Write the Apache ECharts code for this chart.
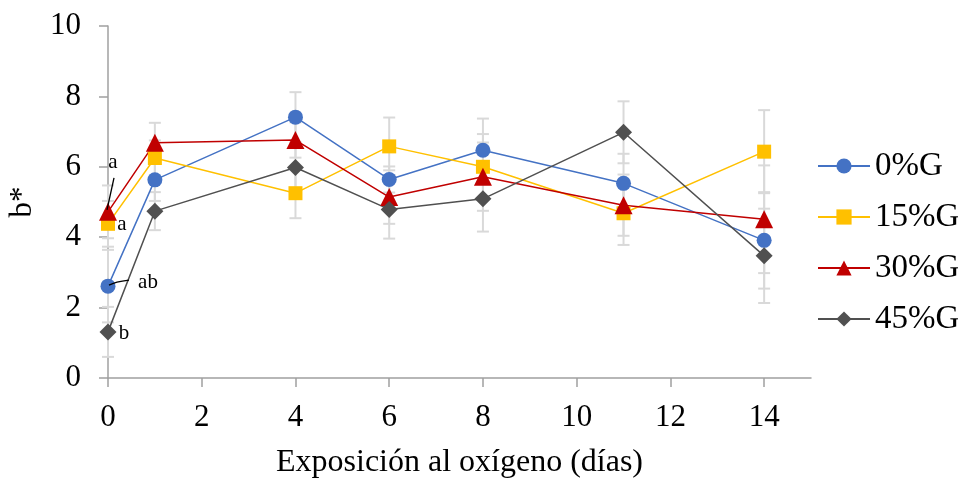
<!DOCTYPE html>
<html>
<head>
<meta charset="utf-8">
<script src="https://cdn.jsdelivr.net/npm/echarts@6/dist/echarts.min.js"></script>
<style>
  html, body { margin: 0; padding: 0; background: #fff; }
  #chart { width: 958px; height: 479px; }
</style>
</head>
<body>
<div id="chart"></div>
<script>
// dias de exposicion y valores de b*
var dias = [0, 1, 4, 6, 8, 11, 14];
var xTicks = [0, 2, 4, 6, 8, 10, 12, 14];

var g0 = [2.61, 5.63, 7.41, 5.64, 6.47, 5.53, 3.91];
var g15 = [4.38, 6.25, 5.25, 6.58, 6.00, 4.68, 6.43];
var g30 = [4.72, 6.68, 6.76, 5.14, 5.72, 4.91, 4.51];
var g45 = [1.31, 4.74, 5.98, 4.79, 5.09, 6.98, 3.47];

// desviaciones (barras de error)
var e0 = [1.03, 0.60, 0.71, 0.37, 0.90, 0.84, 1.37];
var e15 = [0.65, 0.50, 0.71, 0.82, 0.93, 0.90, 1.18];
var e30 = [0.75, 0.57, 0.50, 0.76, 0.97, 0.87, 1.53];
var e45 = [0.71, 0.54, 0.60, 0.83, 0.93, 0.88, 1.34];

var nombres = ['0%G', '15%G', '30%G', '45%G'];
var letras = ['ab', 'a', 'a', 'b'];

var font = 'Liberation Serif, Times New Roman, serif';
var colores = ['#4472C4', '#FFC000', '#C00000', '#505050'];
var simbolos = ['circle', 'rect', 'triangle', 'diamond'];
var tamanos = [15, 14, 18, 17];
var valores = [g0, g15, g30, g45];
var errores = [e0, e15, e30, e45];

// donde va cada letra respecto al punto del dia 0 (px) y su linea guia
var notas = [
  { offset: [40, -4], guia: [[1, -1], [9, -4], [21, -6]] },
  { offset: [14, 1], guia: null },
  { offset: [5, -49], guia: [[6, -34], [-1, -2]] },
  { offset: [16, 2], guia: null }
];

var chart = echarts.init(document.getElementById('chart'));

var series = [];

valores.forEach(function (vals, s) {
  series.push({
    name: nombres[s] + '_err',
    type: 'custom',
    z: 1,
    silent: true,
    data: dias.map(function (d, i) { return [d, vals[i] - errores[s][i], vals[i] + errores[s][i]]; }),
    encode: { x: 0, y: [1, 2] },
    renderItem: function (params, api) {
      var lo = api.coord([api.value(0), api.value(1)]);
      var hi = api.coord([api.value(0), api.value(2)]);
      var w = 6;
      var st = { stroke: '#d9d9d9', lineWidth: 2 };
      return {
        type: 'group',
        children: [
          { type: 'line', shape: { x1: lo[0], y1: lo[1], x2: hi[0], y2: hi[1] }, style: st },
          { type: 'line', shape: { x1: lo[0] - w, y1: lo[1], x2: lo[0] + w, y2: lo[1] }, style: st },
          { type: 'line', shape: { x1: hi[0] - w, y1: hi[1], x2: hi[0] + w, y2: hi[1] }, style: st }
        ]
      };
    }
  });
});

valores.forEach(function (vals, s) {
  series.push({
    name: nombres[s],
    type: 'line',
    z: 3,
    symbol: simbolos[s],
    symbolSize: tamanos[s],
    color: colores[s],
    lineStyle: { width: 1.5, color: colores[s] },
    itemStyle: { color: colores[s] },
    data: dias.map(function (d, i) {
      var p = { value: [d, vals[i]] };
      if (i === 0) {
        p.label = {
          show: true,
          formatter: letras[s],
          position: 'inside',
          offset: notas[s].offset,
          color: '#000',
          fontFamily: font,
          fontSize: 21
        };
      }
      return p;
    })
  });
});

// lineas guia de las letras
series.push({
  type: 'custom',
  z: 4,
  silent: true,
  data: valores.map(function (vals, s) { return [dias[0], vals[0], s]; }),
  encode: { x: 0, y: 1 },
  renderItem: function (params, api) {
    var n = notas[api.value(2)];
    if (!n.guia) return null;
    var c = api.coord([api.value(0), api.value(1)]);
    return {
      type: 'polyline',
      shape: { points: n.guia.map(function (g) { return [c[0] + g[0], c[1] + g[1]]; }), smooth: 0.4 },
      style: { stroke: '#000', lineWidth: 1.3, fill: null }
    };
  }
});

chart.setOption({
  animation: false,
  backgroundColor: '#fff',
  textStyle: { fontFamily: font },
  grid: { left: 108, right: 147, top: 26, bottom: 101, outerBoundsMode: 'none' },
  legend: {
    data: nombres,
    orient: 'vertical',
    left: 812,
    top: 144,
    itemWidth: 52,
    itemHeight: 19,
    itemGap: 17,
    textStyle: { fontFamily: font, fontSize: 33, color: '#000', lineHeight: 34 }
  },
  xAxis: {
    type: 'value',
    min: 0,
    max: 15,
    interval: 2,
    name: 'Exposición al oxígeno (días)',
    nameLocation: 'middle',
    nameGap: 69,
    nameTextStyle: { fontFamily: font, fontSize: 32, color: '#000' },
    axisLine: { lineStyle: { color: '#a0a0a0', width: 1.5 } },
    axisTick: { show: true, length: 9, customValues: xTicks, lineStyle: { color: '#a0a0a0', width: 1.5 } },
    axisLabel: { customValues: xTicks, margin: 24, fontFamily: font, fontSize: 31, color: '#000' },
    splitLine: { show: false }
  },
  yAxis: {
    type: 'value',
    min: 0,
    max: 10,
    interval: 2,
    name: 'b*',
    nameLocation: 'middle',
    nameGap: 70,
    nameTextStyle: { fontFamily: font, fontSize: 31, color: '#000' },
    axisLine: { show: true, lineStyle: { color: '#a0a0a0', width: 1.5 } },
    axisTick: { show: true, length: 9, lineStyle: { color: '#a0a0a0', width: 1.5 } },
    axisLabel: { margin: 27, fontFamily: font, fontSize: 31, color: '#000' },
    splitLine: { show: false }
  },
  series: series
});
</script>
</body>
</html>
